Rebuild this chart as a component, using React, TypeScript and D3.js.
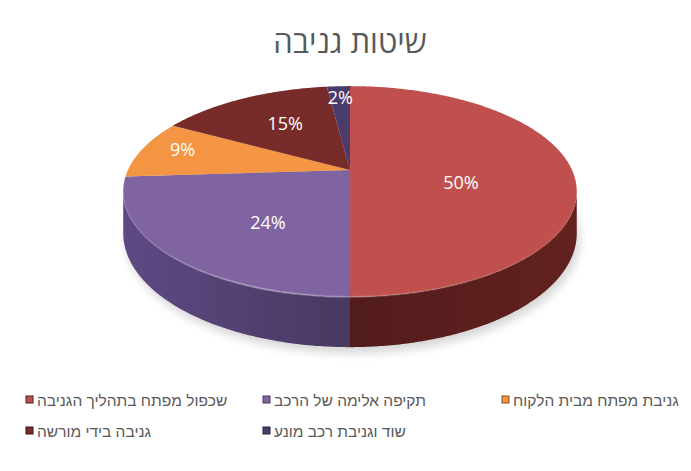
import * as d3 from "d3";
import { useMemo } from "react";

const categories = [
  "שכפול מפתח בתהליך הגניבה",
  "תקיפה אלימה של הרכב",
  "גניבת מפתח מבית הלקוח",
  "גניבה בידי מורשה",
  "שוד וגניבת רכב מונע",
];
const values = [50, 24, 9, 15, 2];
const topColors = ["#C0504D", "#8064A2", "#F39543", "#772C2A", "#4B3B6B"];
const sideLight = ["#62211F", "#5E4984", "#B86A2C", "#4C1C1B", "#33284A"];
const sideDark = ["#521C1C", "#47395F", "#8A4E20", "#3A1514", "#2A2140"];
const title = "שיטות גניבה";

const W = 691;
const H = 471;
// perspective view of the pie disc
const cx = 350;
const cy = 170;
const A = 222;
const B = 101;
const persp = 0.204;
const depth = 40;

type Slice = d3.PieArcDatum<number>;

function proj(a: number, r = 1, z = 0): [number, number] {
  const u = r * Math.sin(a);
  const v = r * Math.cos(a);
  const w = 1 + persp * v;
  return [cx + (A * u) / w, cy - (B * v) / w + (z * depth) / w];
}

function samples(a0: number, a1: number) {
  const n = Math.max(2, Math.ceil(Math.abs(a1 - a0) / 0.01));
  return d3.range(n + 1).map((k) => a0 + ((a1 - a0) * k) / n);
}

const line = d3.line<[number, number]>();

const sideStart = Math.acos(-persp);
const sideEnd = 2 * Math.PI - sideStart;

function topPath(s: Slice) {
  const pts: [number, number][] = [[cx, cy], ...samples(s.startAngle, s.endAngle).map((a) => proj(a))];
  return (line(pts) ?? "") + "Z";
}

function sidePath(s: Slice) {
  const a0 = Math.max(s.startAngle, sideStart);
  const a1 = Math.min(s.endAngle, sideEnd);
  if (a1 <= a0) return null;
  const top = samples(a0, a1).map((a) => proj(a));
  const bottom = samples(a1, a0).map((a) => proj(a, 1, 1));
  return (line([...top, ...bottom]) ?? "") + "Z";
}

export default function App() {
  const slices = useMemo<Slice[]>(
    () => d3.pie<number>().sort(null).value((d) => d)(values),
    []
  );

  const outline = (line(samples(0, 2 * Math.PI).map((a) => proj(a, 1, 1))) ?? "") + "Z";
  const rim = line(samples(sideStart - 0.15, sideEnd).map((a) => proj(a))) ?? "";

  const legendX = [26, 263, 502];
  const legendY = [400, 431];

  return (
    <svg
      width={W}
      height={H}
      viewBox={`0 0 ${W} ${H}`}
      style={{ position: "absolute", left: 0, top: 0, background: "#fff" }}
    >
      <defs>
        <filter id="shadow" x="-20%" y="-20%" width="140%" height="140%">
          <feGaussianBlur stdDeviation="5" />
        </filter>
        {slices.map((s, i) => (
          <linearGradient
            key={i}
            id={`side${i}`}
            gradientUnits="userSpaceOnUse"
            x1={i === 0 ? cx + A : cx - A}
            y1={0}
            x2={cx}
            y2={0}
          >
            <stop offset="0%" stopColor={sideLight[i]} />
            <stop offset="100%" stopColor={sideDark[i]} />
          </linearGradient>
        ))}
        <linearGradient id="rim" x1="0" y1="0" x2="1" y2="0">
          <stop offset="0%" stopColor="#fff" stopOpacity="0.05" />
          <stop offset="30%" stopColor="#fff" stopOpacity="0.3" />
          <stop offset="70%" stopColor="#fff" stopOpacity="0.12" />
          <stop offset="100%" stopColor="#fff" stopOpacity="0.02" />
        </linearGradient>
      </defs>

      <text
        x={cx}
        y={53}
        textAnchor="middle"
        fontFamily="'Open Sans', 'DejaVu Sans', sans-serif"
        fontSize={31}
        fill="#595959"
      >
        {title}
      </text>

      <path
        d={outline}
        transform="translate(3,6)"
        fill="#000"
        opacity={0.16}
        filter="url(#shadow)"
      />

      {slices.map((s, i) => {
        const d = sidePath(s);
        return d ? <path key={`s${i}`} d={d} fill={`url(#side${i})`} /> : null;
      })}

      {slices.map((s, i) => (
        <path key={`t${i}`} d={topPath(s)} fill={topColors[i]} />
      ))}

      <path d={rim} fill="none" stroke="url(#rim)" strokeWidth={2} />

      {slices.map((s, i) => {
        const mid = (s.startAngle + s.endAngle) / 2;
        const big = values[i] >= 20;
        const r = big ? 0.5 : values[i] >= 10 ? 0.57 : 0.8;
        const [x, y] = proj(mid, r);
        return (
          <text
            key={`l${i}`}
            x={x}
            y={y + (big ? 12 : -4)}
            textAnchor="middle"
            dominantBaseline="central"
            fontFamily="'Open Sans', 'DejaVu Sans', sans-serif"
            fontSize={18}
            fill="#fff"
          >
            {d3.format(".0%")(values[i] / 100)}
          </text>
        );
      })}

      {categories.map((c, i) => {
        const x = legendX[i % 3];
        const y = legendY[Math.floor(i / 3)];
        return (
          <g key={`g${i}`}>
            <rect x={x} y={y - 4} width={7} height={7} fill={topColors[i]} stroke={sideDark[i]} strokeWidth={1} />
            <text
              x={x + 11}
              y={y}
              dominantBaseline="central"
              fontFamily="'Liberation Sans', Arial, sans-serif"
              fontSize={15.5}
              fill="#595959"
            >
              {c}
            </text>
          </g>
        );
      })}
    </svg>
  );
}
